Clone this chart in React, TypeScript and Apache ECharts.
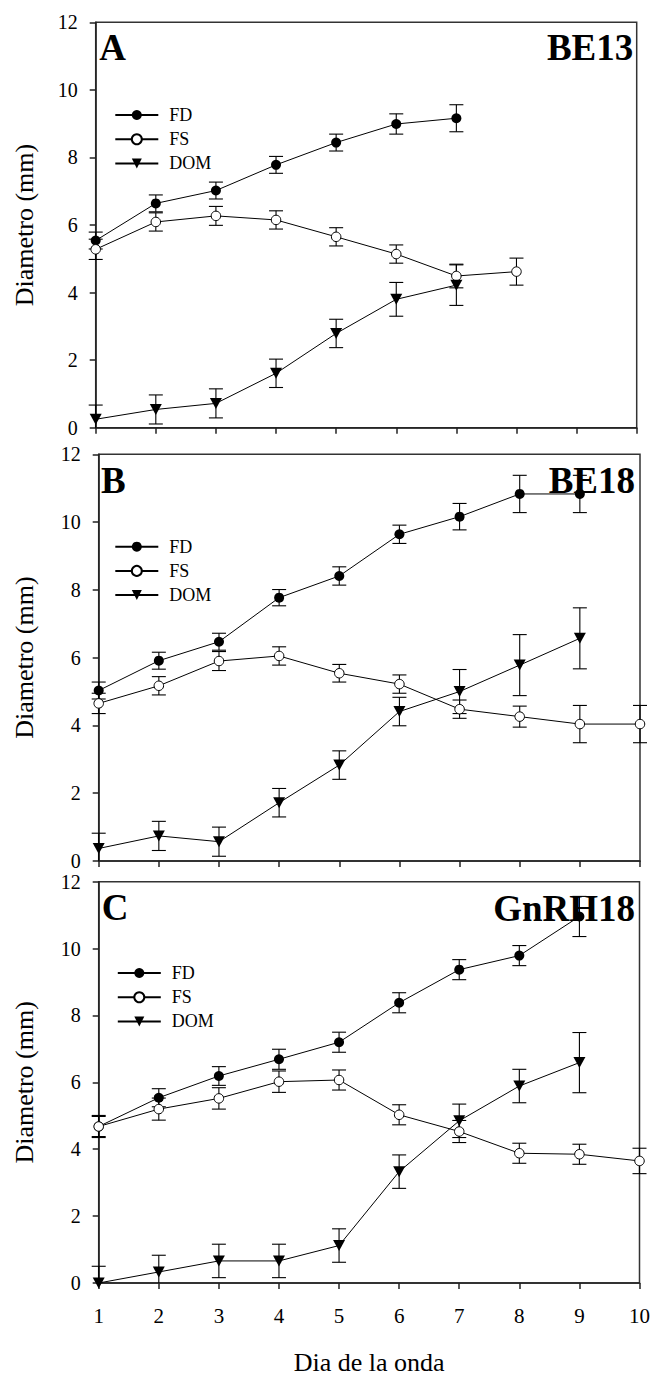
import React, { useEffect, useRef } from "react";
import * as echarts from "echarts";

const days = [1, 2, 3, 4, 5, 6, 7, 8, 9, 10];
const xTicks = ["1", "2", "3", "4", "5", "6", "7", "8", "9", "10"];
const seriesNames = ["FD", "FS", "DOM"];
const panelLetters = ["A", "B", "C"];
const panelTitles = ["BE13", "BE18", "GnRH18"];

// Panel A (BE13)
const A_FD = [5.54, 6.64, 7.02, 7.78, 8.44, 8.99, 9.16];
const A_FD_err = [0.25, 0.25, 0.25, 0.25, 0.25, 0.3, 0.4];
const A_FS = [5.28, 6.09, 6.27, 6.15, 5.65, 5.14, 4.49, 4.62];
const A_FS_err = [0.3, 0.27, 0.28, 0.27, 0.27, 0.27, 0.35, 0.4];
const A_DOM = [0.25, 0.54, 0.72, 1.61, 2.79, 3.8, 4.22];
const A_DOM_err = [0.42, 0.43, 0.43, 0.42, 0.42, 0.5, 0.6];

// Panel B (BE18)
const B_FD = [5.03, 5.91, 6.47, 7.77, 8.41, 9.64, 10.16, 10.83, 10.83];
const B_FD_err = [0.25, 0.25, 0.25, 0.24, 0.27, 0.27, 0.39, 0.55, 0.55];
const B_FS = [4.65, 5.17, 5.9, 6.05, 5.54, 5.22, 4.48, 4.26, 4.04, 4.04];
const B_FS_err = [0.3, 0.27, 0.28, 0.27, 0.26, 0.27, 0.27, 0.31, 0.55, 0.55];
const B_DOM = [0.37, 0.74, 0.57, 1.72, 2.83, 4.41, 5.0, 5.78, 6.57];
const B_DOM_err = [0.45, 0.43, 0.43, 0.42, 0.42, 0.42, 0.65, 0.9, 0.9];

// Panel C (GnRH18)
const C_FD = [4.68, 5.54, 6.19, 6.69, 7.2, 8.38, 9.37, 9.79, 10.96];
const C_FD_err = [0.3, 0.27, 0.28, 0.3, 0.3, 0.3, 0.3, 0.3, 0.6];
const C_FS = [4.68, 5.2, 5.52, 6.02, 6.07, 5.03, 4.53, 3.88, 3.85, 3.65];
const C_FS_err = [0.33, 0.33, 0.32, 0.32, 0.3, 0.3, 0.33, 0.3, 0.3, 0.38];
const C_DOM = [0.0, 0.33, 0.66, 0.66, 1.12, 3.33, 4.85, 5.89, 6.59];
const C_DOM_err = [0.5, 0.5, 0.5, 0.5, 0.5, 0.5, 0.5, 0.5, 0.9];

const panels = [
  { vals: [A_FD, A_FS, A_DOM], errs: [A_FD_err, A_FS_err, A_DOM_err] },
  { vals: [B_FD, B_FS, B_DOM], errs: [B_FD_err, B_FS_err, B_DOM_err] },
  { vals: [C_FD, C_FS, C_DOM], errs: [C_FD_err, C_FS_err, C_DOM_err] },
];

const FONT = "Liberation Serif";
const grids = [
  { left: 95.7, top: 22.3, width: 541, height: 405.4 },
  { left: 98.7, top: 454.3, width: 541.3, height: 406.7 },
  { left: 98.7, top: 881.7, width: 541.3, height: 402.6 },
];
const legendPos = [
  { left: 114.3, top: 106 },
  { left: 114.3, top: 537.7 },
  { left: 116.8, top: 964 },
];
const letterPos = [
  { x: 99.3, y: 47.5 },
  { x: 101, y: 480.8 },
  { x: 101.7, y: 907.5 },
];
const titlePos = [
  { x: 633.3, y: 47.5 },
  { x: 635, y: 480.3 },
  { x: 635, y: 908 },
];

const TRI = "path://M0,0 L12,0 L6,11 Z";
const symbolFor = ["circle", "circle", TRI];
const sizeFor: any[] = [10, 9.5, [12, 11]];
const fillFor = ["#000", "#fff", "#000"];

function errorSeries(vals: number[], errs: number[], gi: number) {
  return {
    type: "custom",
    xAxisIndex: gi,
    yAxisIndex: gi,
    z: 1,
    silent: true,
    data: vals.map((v, i) => [days[i], v, errs[i]]),
    encode: { x: 0, y: 1 },
    renderItem: (_params: any, api: any) => {
      const x = api.value(0);
      const y = api.value(1);
      const e = api.value(2);
      const loV = Math.max(0, y - e);
      const pHi = api.coord([x, y + e]);
      const pLo = api.coord([x, loV]);
      const w = 7;
      const st = { stroke: "#000", lineWidth: 1.1 };
      const children: any[] = [
        { type: "line", shape: { x1: pHi[0], y1: pHi[1], x2: pLo[0], y2: pLo[1] }, style: st },
        { type: "line", shape: { x1: pHi[0] - w, y1: pHi[1], x2: pHi[0] + w, y2: pHi[1] }, style: st },
      ];
      if (y - e >= 0) {
        children.push({ type: "line", shape: { x1: pLo[0] - w, y1: pLo[1], x2: pLo[0] + w, y2: pLo[1] }, style: st });
      }
      return { type: "group", children };
    },
  };
}

export default function App() {
  const ref = useRef<HTMLDivElement>(null);
  useEffect(() => {
    if (!ref.current) return;
    const chart = echarts.init(ref.current, undefined, { renderer: "svg" });
    const series: any[] = [];
    panels.forEach((p, gi) => {
      p.vals.forEach((vals, si) => {
        series.push(errorSeries(vals, p.errs[si], gi));
        series.push({
          type: "line",
          name: seriesNames[si],
          xAxisIndex: gi,
          yAxisIndex: gi,
          z: 2,
          data: vals.map((v, i) => [days[i], v]),
          symbol: symbolFor[si],
          symbolSize: sizeFor[si],
          showSymbol: true,
          lineStyle: { color: "#000", width: 1 },
          itemStyle: { color: fillFor[si], borderColor: "#000", borderWidth: si === 1 ? 1 : 0 },
          emphasis: { disabled: true },
        });
      });
    });
    const option: any = {
      animation: false,
      backgroundColor: "#fff",
      textStyle: { fontFamily: FONT, color: "#000" },
      grid: grids.map((g) => ({ ...g, show: true, borderColor: "#333", borderWidth: 1.5, backgroundColor: "transparent" })),
      xAxis: grids.map((_, gi) => ({
        type: "value",
        gridIndex: gi,
        min: 1,
        max: 10,
        interval: 1,
        axisLine: { show: true, lineStyle: { color: "#222", width: 1.5 } },
        axisTick: { show: true, length: 6, lineStyle: { color: "#222", width: 1.5 } },
        splitLine: { show: false },
        axisLabel: {
          show: gi === 2,
          margin: 22,
          fontFamily: FONT,
          fontSize: 21,
          color: "#000",
          formatter: (v: number) => xTicks[v - 1] ?? "",
        },
        name: gi === 2 ? "Dia de la onda" : "",
        nameLocation: "middle",
        nameGap: 66,
        nameTextStyle: { fontFamily: FONT, fontSize: 26, color: "#000" },
      })),
      yAxis: grids.map((g, gi) => ({
        type: "value",
        gridIndex: gi,
        min: 0,
        max: 12,
        interval: 2,
        axisLine: { show: true, lineStyle: { color: "#222", width: 1.5 } },
        axisTick: { show: true, length: 6, lineStyle: { color: "#222", width: 1.5 } },
        splitLine: { show: false },
        axisLabel: { margin: 18, fontFamily: FONT, fontSize: 20, color: "#000" },
        name: "Diametro (mm)",
        nameLocation: "middle",
        nameGap: g.left - 24.5 - 13,
        nameTextStyle: { fontFamily: FONT, fontSize: 26, color: "#000" },
      })),
      legend: legendPos.map((lp) => ({
        data: seriesNames,
        orient: "vertical",
        left: lp.left,
        top: lp.top,
        padding: 0,
        itemWidth: 43,
        itemHeight: 12.5,
        itemGap: 6.2,
        selectedMode: false,
        textStyle: { fontFamily: FONT, fontSize: 18, color: "#000", padding: [0, 0, 0, 6] },
      })),
      graphic: [
        ...letterPos.map((p, i) => ({
          type: "text",
          x: p.x,
          y: p.y,
          z: 10,
          style: { text: panelLetters[i], fontFamily: FONT, fontSize: 37, fontWeight: "bold", fill: "#000", align: "left", verticalAlign: "middle" },
        })),
        ...titlePos.map((p, i) => ({
          type: "text",
          x: p.x,
          y: p.y,
          z: 10,
          style: { text: panelTitles[i], fontFamily: FONT, fontSize: 37, fontWeight: "bold", fill: "#000", align: "right", verticalAlign: "middle" },
        })),
      ],
      series,
    };
    chart.setOption(option);
    return () => chart.dispose();
  }, []);
  return (
    <div
      ref={ref}
      style={{ position: "fixed", left: 0, top: 0, width: 653, height: 1376, background: "#fff" }}
    />
  );
}
